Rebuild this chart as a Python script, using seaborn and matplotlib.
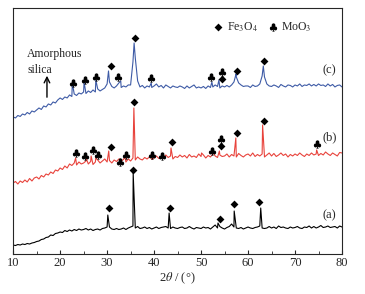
import numpy as np
import pandas as pd
import matplotlib
matplotlib.use("Agg")
import matplotlib.pyplot as plt
import seaborn as sns
from matplotlib.ticker import MultipleLocator

# %% data (intensity in arbitrary units, curves already offset)
two_theta_grid = np.arange(10, 80.5, 0.5)

base_a = [
    9, 8.5, 9.5, 9, 10, 9.5, 10.5, 10, 11, 11.5,
    12.5, 13, 14.5, 15, 16.5, 17, 19, 18.5, 20.5, 21,
    22, 21.5, 23.5, 22.5, 24, 23, 24.5, 23.5, 25, 24,
    24.5, 25.5, 24, 25, 23.5, 24.5, 25, 24, 25.5, 26,
    27, 27, 25, 24.5, 25.5, 24.5, 25, 26, 24.5, 26,
    27, 28, 26, 27.5, 25.5, 26, 27, 25.5, 26.5, 25,
    26, 27, 25.5, 26.5, 27, 27.5, 26, 25.5, 27, 26,
    25.5, 26.5, 27, 25.5, 26, 27.5, 26, 25, 26.5, 26,
    25.5, 27, 26, 26.5, 25, 27, 29, 26, 27.5, 26,
    25, 26.5, 27.5, 30, 27, 26, 25.5, 26.5, 25, 26,
    27, 26, 25.5, 26.5, 27, 28, 26, 25.5, 26, 27.5,
    26, 27, 25.5, 28, 26.5, 27, 26, 25.5, 27, 26,
    26.5, 27.5, 26, 25.5, 27, 26.5, 28, 26, 27.5, 26,
    27, 28.5, 26.5, 27, 28, 26.5, 27, 27.5, 26, 28,
    27,
]
base_b = [
    71, 72.5, 70, 73, 71.5, 74, 72, 75.5, 73, 76,
    77, 75, 78.5, 77, 80, 79, 82, 80.5, 84, 83,
    86, 84.5, 88, 86, 90, 88.5, 91, 89, 92, 90,
    91, 93, 90, 92.5, 89.5, 92, 94, 91, 93, 95,
    92, 93.5, 91, 94, 92.5, 95, 93, 94.5, 92, 95,
    93, 96, 94, 97, 95, 94, 96.5, 95, 97, 94.5,
    96, 98, 95.5, 97, 96, 99, 96.5, 98, 95, 97.5,
    96.5, 99, 97, 98.5, 96, 99.5, 97, 98, 96.5, 100,
    97.5, 99, 96, 98.5, 97, 100, 98, 96.5, 99, 97.5,
    98, 100, 97, 99.5, 98, 97, 100.5, 98.5, 97, 99,
    100, 98, 101, 97.5, 99.5, 98, 100, 97, 99, 101,
    98, 100.5, 97.5, 99, 101, 98.5, 100, 97, 99.5, 98,
    100, 98.5, 101, 99, 97.5, 100, 98.5, 101, 99, 100,
    98.5, 100.5, 99, 102, 100, 98.5, 101, 99.5, 98, 101.5,
    101,
]
base_c = [
    137, 136, 138.5, 137.5, 140, 139, 141.5, 140, 143, 142,
    144, 146, 144.5, 148, 147, 150, 149, 152, 151, 154,
    156, 154.5, 157, 156, 159, 157.5, 160, 158.5, 161, 160,
    162, 160.5, 163, 161.5, 164, 162, 165, 163, 164.5, 166,
    170, 172, 167.5, 166, 168, 171, 166.5, 168, 167, 169,
    169, 192, 196, 173, 167, 168.5, 166, 168, 167, 166.5,
    168, 170, 167, 168.5, 166, 169, 167.5, 166, 168, 167,
    166.5, 168, 167, 165.5, 168, 166, 167.5, 169, 166, 167,
    166, 167.5, 165.5, 168, 166.5, 167, 169, 167.5, 166, 168,
    167, 168.5, 167, 169, 172, 177, 171, 169, 167.5, 168,
    168, 166.5, 169, 167.5, 168, 170, 178, 177, 170, 168,
    167.5, 169, 168, 166.5, 169.5, 168, 167, 169, 168.5, 167,
    169, 168, 170, 167.5, 169, 168.5, 170, 168, 169.5, 168,
    170, 168.5, 169, 167.5, 170, 168, 169.5, 167, 168.5, 169,
    167,
]

# peak points (2theta, intensity)
peaks_a_x = [30.15, 35.55, 43.2, 53.6, 57.05, 62.7]
peaks_a_y = [39, 81, 41, 31, 43, 46]
peaks_b_x = [23.3, 25.6, 26.6, 27.6, 30.35, 32.8, 33.8, 35.7, 39.3, 41.6,
             43.6, 50.1, 52.6, 53.9, 57.4, 63.1, 74.6]
peaks_b_y = [96, 95, 98, 96, 103, 95, 98, 146, 99, 98,
             106, 101, 101, 103, 116, 129, 104]
peaks_c_x = [22.6, 25.1, 27.6, 30.3, 32.9, 35.75, 39.4, 52.3,
             53.8, 57.45, 63.25]
peaks_c_y = [171, 172, 174, 183, 173, 211, 171, 172,
             174, 180, 188]

# phase markers: Fe3O4 (diamond) and MoO3 (club) positions per pattern
fe_x = [30.3, 35.6, 43.4, 54.0, 57.1, 62.4,
        30.8, 35.8, 43.8, 54.3, 57.6, 63.3,
        30.9, 36.0, 54.5, 57.7, 63.4]
fe_y = [46, 84, 46, 35, 50, 52,
        107, 152, 112, 108, 121, 133,
        188, 216, 175, 183, 193]
mo_x = [23.4, 25.4, 27.0, 28.0, 32.8, 34.0, 39.5, 41.6, 52.4, 54.3, 74.6,
        22.7, 25.3, 27.7, 32.3, 39.3, 52.1, 54.5]
mo_y = [101, 98, 104, 99, 92, 99, 99, 98, 103, 115, 110,
        171, 174, 177, 177, 176, 177, 182]

sample_labels = ["(a)", "(b)", "(c)"]
label_y = [39, 117, 184]
colors = ["black", "#e8433c", "#3e5ba6"]


def make_curve(base, px, py, name):
    df = pd.concat([pd.DataFrame({"x": two_theta_grid, "y": base}),
                    pd.DataFrame({"x": px, "y": py})])
    df = df.sort_values("x")
    df["sample"] = name
    return df


data = pd.concat([
    make_curve(base_a, peaks_a_x, peaks_a_y, "(a)"),
    make_curve(base_b, peaks_b_x, peaks_b_y, "(b)"),
    make_curve(base_c, peaks_c_x, peaks_c_y, "(c)"),
])

# %% plot
sns.set_style("ticks")
plt.rcParams["font.family"] = ["Liberation Serif", "DejaVu Sans"]
plt.rcParams["mathtext.fontset"] = "stix"

fig = plt.figure(figsize=(3.65, 2.94), dpi=100)
ax = fig.add_axes([0.036, 0.136, 0.901, 0.837])

sns.lineplot(data=data, x="x", y="y", hue="sample", palette=colors,
             estimator=None, sort=False, linewidth=0.8, legend=False, ax=ax)

diamond_kw = dict(marker="D", s=16, color="black", linewidth=0, zorder=3)
club_kw = dict(marker=r"$\clubsuit$", s=36, color="black", linewidth=0, zorder=3)
sns.scatterplot(x=fe_x, y=fe_y, ax=ax, legend=False, **diamond_kw)
sns.scatterplot(x=mo_x, y=mo_y, ax=ax, legend=False, **club_kw)

for lab, y in zip(sample_labels, label_y):
    ax.text(77.4, y, lab, ha="center", va="center", fontsize=9)

# legend of phases
ax.scatter([53.6], [227], **diamond_kw)
ax.text(55.6, 227, r"Fe$_3$O$_4$", ha="left", va="center", fontsize=8.5)
ax.scatter([65.3], [227], **club_kw)
ax.text(67.1, 227, r"MoO$_3$", ha="left", va="center", fontsize=8.5)

# amorphous silica
ax.text(13.0, 192, "Amorphous\nsilica", ha="left", va="center", fontsize=8.5,
        linespacing=1.35)
ax.annotate("", xy=(17.2, 181), xytext=(17.2, 154),
            arrowprops=dict(arrowstyle="->", color="black", lw=1.0))

ax.set_xlim(10, 80)
ax.set_ylim(0, 246)
ax.set_yticks([])
ax.xaxis.set_major_locator(MultipleLocator(10))
ax.xaxis.set_minor_locator(MultipleLocator(5))
ax.tick_params(axis="x", which="major", direction="in", length=3, labelsize=9, pad=2)
ax.tick_params(axis="x", which="minor", direction="in", length=2)
ax.set_xlabel(r"2$\theta$ / (°)", fontsize=9, labelpad=1)
ax.set_ylabel("")
for s in ax.spines.values():
    s.set_linewidth(0.8)

fig.savefig("out.png", dpi=100)
